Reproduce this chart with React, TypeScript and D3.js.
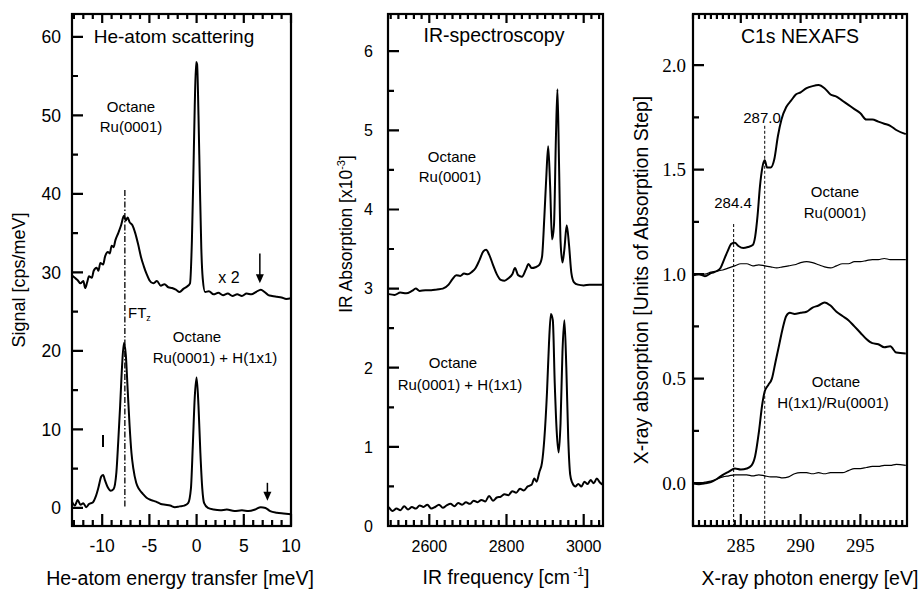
import React from 'react';
import * as d3 from 'd3';

// He-atom scattering (energy transfer meV, signal cps/meV)
const heRu: [number, number][] = [
  [-13.2, 29.6], [-12.9, 29.3], [-12.6, 29.0], [-12.3, 28.6], [-12.0, 28.9], [-11.8, 28.0], [-11.6, 28.7],
  [-11.4, 29.5], [-11.1, 29.3], [-10.9, 30.2], [-10.6, 30.6], [-10.4, 30.2], [-10.2, 31.2], [-9.9, 31.0],
  [-9.7, 32.0], [-9.4, 32.6], [-9.2, 32.4], [-9.0, 33.4], [-8.8, 33.2], [-8.6, 34.1], [-8.3, 35.0],
  [-8.0, 36.0], [-7.7, 37.2], [-7.5, 36.6], [-7.3, 37.0], [-7.1, 36.4], [-6.8, 36.0], [-6.5, 35.0],
  [-6.2, 33.6], [-5.9, 32.0], [-5.6, 30.8], [-5.3, 29.8], [-5.0, 29.0], [-4.6, 28.6], [-4.2, 28.9],
  [-3.8, 28.3], [-3.4, 28.5], [-3.0, 28.1], [-2.6, 28.0], [-2.2, 27.8], [-1.8, 27.5], [-1.4, 27.9],
  [-1.0, 28.2], [-0.7, 28.6], [-0.5, 34], [-0.35, 42], [-0.2, 51], [-0.05, 56.8], [0.05, 56.5],
  [0.2, 50], [0.35, 41], [0.5, 33], [0.65, 29.2], [0.9, 27.5], [1.3, 27.6], [1.8, 27.2], [2.3, 27.4],
  [2.8, 27.1], [3.3, 27.3], [3.8, 27.0], [4.3, 27.2], [4.8, 27.0], [5.3, 27.3], [5.8, 27.2], [6.3, 27.5],
  [6.8, 27.8], [7.2, 27.5], [7.6, 27.1], [8.0, 27.0], [8.5, 26.9], [9.0, 26.8], [9.5, 26.6], [10.0, 26.7],
];
const heRuH: [number, number][] = [
  [-13.2, 0.8], [-12.9, 0.3], [-12.6, 1.0], [-12.3, 0.4], [-12.0, 0.6], [-11.7, 0.1], [-11.4, 0.5],
  [-11.0, 0.7], [-10.7, 1.4], [-10.4, 2.6], [-10.1, 4.0], [-9.9, 4.2], [-9.7, 3.5], [-9.4, 2.6],
  [-9.1, 2.2], [-8.8, 2.4], [-8.5, 4.5], [-8.3, 8.5], [-8.1, 13], [-7.9, 18], [-7.7, 21], [-7.5, 19.5],
  [-7.3, 15], [-7.1, 10.5], [-6.9, 7], [-6.7, 5], [-6.4, 3.2], [-6.1, 2.4], [-5.7, 1.8], [-5.3, 1.3],
  [-4.8, 1.0], [-4.3, 0.8], [-3.8, 0.5], [-3.3, 0.4], [-2.8, 0.3], [-2.3, 0.1], [-1.8, 0.2], [-1.3, 0.3],
  [-0.9, 0.6], [-0.6, 2.5], [-0.4, 8], [-0.2, 14], [0, 16.6], [0.2, 13], [0.4, 7], [0.6, 2.5], [0.8, 0.6],
  [1.2, 0.0], [1.8, -0.2], [2.5, -0.3], [3.2, -0.2], [4.0, -0.4], [4.8, -0.3], [5.5, -0.4], [6.2, -0.2],
  [6.8, 0.1], [7.3, 0.0], [7.8, -0.4], [8.5, -0.6], [9.2, -0.7], [10.0, -0.8],
];

// IR spectroscopy (cm-1, absorption x10^-3)
const irRu: [number, number][] = [
  [2495, 2.93], [2510, 2.92], [2525, 2.95], [2540, 2.94], [2555, 2.97], [2565, 3.0], [2575, 2.97],
  [2590, 2.98], [2605, 2.98], [2620, 2.99], [2635, 3.0], [2650, 3.05], [2660, 3.12], [2670, 3.17],
  [2680, 3.16], [2690, 3.19], [2700, 3.18], [2710, 3.21], [2720, 3.26], [2730, 3.36], [2740, 3.47],
  [2747, 3.49], [2755, 3.43], [2765, 3.3], [2775, 3.18], [2785, 3.11], [2795, 3.1], [2805, 3.13],
  [2815, 3.18], [2822, 3.26], [2830, 3.17], [2840, 3.15], [2850, 3.24], [2857, 3.31], [2865, 3.26],
  [2875, 3.27], [2885, 3.3], [2892, 3.4], [2898, 3.9], [2903, 4.4], [2908, 4.8], [2913, 4.3],
  [2918, 3.62], [2923, 3.8], [2928, 4.9], [2932, 5.52], [2936, 4.6], [2940, 3.6], [2945, 3.33],
  [2950, 3.5], [2956, 3.8], [2962, 3.55], [2968, 3.2], [2975, 3.08], [2985, 3.05], [3000, 3.04],
  [3015, 3.05], [3030, 3.05], [3050, 3.05],
];
const irRuH: [number, number][] = [
  [2495, 0.24], [2505, 0.19], [2515, 0.22], [2525, 0.2], [2535, 0.25], [2545, 0.21], [2555, 0.24],
  [2565, 0.22], [2575, 0.26], [2585, 0.24], [2595, 0.27], [2605, 0.22], [2615, 0.24], [2625, 0.27],
  [2635, 0.23], [2645, 0.26], [2655, 0.28], [2665, 0.25], [2675, 0.29], [2685, 0.27], [2695, 0.3],
  [2705, 0.28], [2715, 0.32], [2725, 0.3], [2735, 0.33], [2745, 0.31], [2755, 0.38], [2765, 0.32],
  [2775, 0.36], [2785, 0.37], [2795, 0.4], [2805, 0.39], [2815, 0.44], [2825, 0.42], [2835, 0.47],
  [2845, 0.45], [2855, 0.5], [2865, 0.52], [2872, 0.6], [2878, 0.56], [2885, 0.68], [2892, 0.8],
  [2898, 1.1], [2905, 1.7], [2910, 2.3], [2915, 2.68], [2920, 2.6], [2925, 1.8], [2930, 1.2],
  [2935, 0.93], [2940, 1.3], [2945, 2.2], [2950, 2.6], [2955, 2.0], [2960, 1.1], [2965, 0.65],
  [2970, 0.55], [2978, 0.5], [2986, 0.53], [2994, 0.5], [3002, 0.56], [3010, 0.53], [3018, 0.58],
  [3026, 0.54], [3034, 0.6], [3042, 0.55], [3050, 0.52],
];

// C1s NEXAFS (eV, absorption in units of step)
const nxRu: [number, number][] = [
  [281.0, 0.995], [281.5, 1.0], [282.0, 0.99], [282.5, 1.005], [283.0, 1.015], [283.3, 1.03],
  [283.6, 1.07], [283.9, 1.11], [284.2, 1.145], [284.5, 1.15], [284.8, 1.135], [285.2, 1.125],
  [285.6, 1.13], [286.0, 1.14], [286.2, 1.18], [286.4, 1.28], [286.6, 1.42], [286.8, 1.51],
  [287.0, 1.545], [287.2, 1.51], [287.5, 1.51], [287.8, 1.55], [288.1, 1.66], [288.4, 1.74],
  [288.8, 1.8], [289.2, 1.83], [289.6, 1.86], [290.0, 1.87], [290.5, 1.89], [291.0, 1.9],
  [291.5, 1.905], [292.0, 1.89], [292.5, 1.86], [293.0, 1.85], [293.5, 1.83], [294.0, 1.81],
  [294.5, 1.79], [295.0, 1.77], [295.5, 1.74], [296.0, 1.74], [296.5, 1.73], [297.0, 1.72],
  [297.5, 1.71], [298.0, 1.69], [298.8, 1.67],
];
const nxRuBg: [number, number][] = [
  [281.0, 0.995], [281.5, 1.0], [282.0, 1.0], [282.5, 1.01], [283.0, 1.015], [283.5, 1.02], [284.0, 1.03],
  [284.5, 1.04], [285.0, 1.05], [285.5, 1.05], [286.0, 1.04], [286.5, 1.045], [287.0, 1.04], [287.5, 1.035],
  [288.0, 1.03], [288.5, 1.035], [289.0, 1.04], [289.5, 1.045], [290.0, 1.055], [290.5, 1.06],
  [291.0, 1.055], [291.5, 1.045], [292.0, 1.035], [292.5, 1.03], [293.0, 1.04], [293.5, 1.05],
  [294.0, 1.05], [294.5, 1.06], [295.0, 1.06], [295.5, 1.065], [296.0, 1.07], [296.5, 1.07],
  [297.0, 1.075], [297.5, 1.07], [298.0, 1.07], [298.8, 1.07],
];
const nxRuH: [number, number][] = [
  [281.0, 0.0], [281.5, -0.005], [282.0, 0.0], [282.5, 0.005], [283.0, 0.02], [283.5, 0.04], [284.0, 0.055],
  [284.5, 0.07], [285.0, 0.065], [285.5, 0.07], [285.9, 0.085], [286.2, 0.13], [286.5, 0.24], [286.8, 0.38],
  [287.0, 0.44], [287.3, 0.47], [287.6, 0.5], [287.9, 0.58], [288.2, 0.66], [288.5, 0.74], [288.8, 0.8],
  [289.1, 0.815], [289.5, 0.81], [290.0, 0.815], [290.5, 0.82], [291.0, 0.84], [291.5, 0.85],
  [292.0, 0.865], [292.5, 0.85], [293.0, 0.82], [293.5, 0.8], [294.0, 0.78], [294.5, 0.75], [295.0, 0.72],
  [295.5, 0.69], [296.0, 0.67], [296.5, 0.665], [297.0, 0.65], [297.5, 0.655], [298.0, 0.625], [298.8, 0.62],
];
const nxRuHBg: [number, number][] = [
  [281.0, 0.0], [281.5, 0.0], [282.0, 0.005], [282.5, 0.01], [283.0, 0.02], [283.5, 0.03], [284.0, 0.035],
  [284.5, 0.04], [285.0, 0.04], [285.5, 0.04], [286.0, 0.035], [286.5, 0.04], [287.0, 0.035], [287.5, 0.03],
  [288.0, 0.03], [288.5, 0.025], [289.0, 0.03], [289.5, 0.045], [290.0, 0.05], [290.5, 0.05], [291.0, 0.045],
  [291.5, 0.05], [292.0, 0.045], [292.5, 0.05], [293.0, 0.05], [293.5, 0.05], [294.0, 0.06], [294.5, 0.07],
  [295.0, 0.07], [295.5, 0.075], [296.0, 0.08], [296.5, 0.08], [297.0, 0.085], [297.5, 0.085],
  [298.0, 0.09], [298.8, 0.085],
];

const heXTicks = [-10, -5, 0, 5, 10];
const heYTicks = [0, 10, 20, 30, 40, 50, 60];
const irXTicks = [2600, 2800, 3000];
const irYTicks = [0, 1, 2, 3, 4, 5, 6];
const nxXTicks = [285, 290, 295];
const nxYTicks = [0, 0.5, 1, 1.5, 2];

const SANS = 'Liberation Sans, Arial, Helvetica, sans-serif';
const SERIF = 'Liberation Serif, Times New Roman, serif';

type Box = { x0: number; x1: number; y0: number; y1: number };

function steps(a: number, b: number, s: number) {
  const out: number[] = [];
  const n = Math.floor((b - a) / s + 1e-6);
  for (let i = 0; i <= n; i++) out.push(a + i * s);
  return out;
}

// one path holding every inward tick of a panel
function tickPath(box: Box, sx: any, sy: any, xMajor: number[], xMinor: number, yMajor: number[], yMinor: number) {
  const [xa, xb] = sx.domain();
  const [ya, yb] = sy.domain();
  const parts: string[] = [];
  steps(Math.ceil(xa / xMinor) * xMinor, xb, xMinor).forEach(v => {
    const p = sx(v).toFixed(1);
    parts.push(`M${p} ${box.y1}L${p} ${box.y1 - 6}`, `M${p} ${box.y0}L${p} ${box.y0 + 5}`);
  });
  xMajor.forEach(v => {
    const p = sx(v).toFixed(1);
    parts.push(`M${p} ${box.y1}L${p} ${box.y1 - 12}`, `M${p} ${box.y0}L${p} ${box.y0 + 9}`);
  });
  steps(Math.ceil(ya / yMinor) * yMinor, yb, yMinor).forEach(v => {
    const p = sy(v).toFixed(1);
    parts.push(`M${box.x0} ${p}L${box.x0 + 6} ${p}`);
  });
  yMajor.forEach(v => {
    const p = sy(v).toFixed(1);
    parts.push(`M${box.x0} ${p}L${box.x0 + 11} ${p}`);
  });
  return parts.join('');
}

function Curve({ data, sx, sy, w = 2 }: any) {
  const line = d3.line<[number, number]>().x(d => sx(d[0])).y(d => sy(d[1])).curve(d3.curveMonotoneX);
  return <path d={line(data) || ''} fill="none" stroke="#000" strokeWidth={w} strokeLinejoin="round" />;
}

function Arrow({ px, py0, py1 }: { px: number; py0: number; py1: number }) {
  return (
    <g>
      <line x1={px} x2={px} y1={py0} y2={py1 - 6} stroke="#000" strokeWidth={1.5} />
      <path d={`M${px - 4},${py1 - 9} L${px + 4},${py1 - 9} L${px},${py1} Z`} fill="#000" />
    </g>
  );
}

const b1: Box = { x0: 72, x1: 291, y0: 14, y1: 526 };
const b2: Box = { x0: 388, x1: 603, y0: 14, y1: 526 };
const b3: Box = { x0: 693, x1: 907, y0: 14, y1: 526 };

const sx1 = d3.scaleLinear().domain([-13.2, 10]).range([b1.x0, b1.x1]);
const sy1 = d3.scaleLinear().domain([-2.3, 62.9]).range([b1.y1, b1.y0]);
const sx2 = d3.scaleLinear().domain([2493, 3050]).range([b2.x0, b2.x1]);
const sy2 = d3.scaleLinear().domain([0, 6.47]).range([b2.y1, b2.y0]);
const sx3 = d3.scaleLinear().domain([281, 298.9]).range([b3.x0, b3.x1]);
const sy3 = d3.scaleLinear().domain([-0.205, 2.245]).range([b3.y1, b3.y0]);

export default function App() {
  const txt = (props: any, s: React.ReactNode) => (
    <text fontFamily={SANS} fontSize={15} textAnchor="middle" {...props}>{s}</text>
  );
  const frame = (b: Box) => (
    <rect x={b.x0} y={b.y0} width={b.x1 - b.x0} height={b.y1 - b.y0} fill="none" stroke="#000" strokeWidth={2.2} />
  );

  return (
    <svg width={922} height={590} style={{ position: 'absolute', left: 0, top: 0, background: '#fff' }}>
      {/* ticks of all three panels */}
      <path d={tickPath(b1, sx1, sy1, heXTicks, 1, heYTicks, 5)} stroke="#000" strokeWidth={2.2} fill="none" />
      <path d={tickPath(b2, sx2, sy2, irXTicks, 20, irYTicks, 0.5)} stroke="#000" strokeWidth={2.2} fill="none" />
      <path d={tickPath(b3, sx3, sy3, nxXTicks, 0.5, nxYTicks, 0.25)} stroke="#000" strokeWidth={2.2} fill="none" />
      {frame(b1)}
      {frame(b2)}
      {frame(b3)}

      {/* Panel 1 */}
      {heXTicks.map(v => (
        <text key={'hx' + v} x={sx1(v)} y={552} textAnchor="middle" fontFamily={SANS} fontSize={17.5}>{v}</text>
      ))}
      {heYTicks.map(v => (
        <text key={'hy' + v} x={b1.x0 - 11} y={sy1(v) + 6.3} textAnchor="end" fontFamily={SANS} fontSize={17.5}>{v}</text>
      ))}
      <line x1={sx1(-7.6)} x2={sx1(-7.6)} y1={sy1(40.5)} y2={sy1(0)} stroke="#000" strokeWidth={1.3} strokeDasharray="6,2,1.5,2" />
      <Curve data={heRu} sx={sx1} sy={sy1} />
      <Curve data={heRuH} sx={sx1} sy={sy1} />
      {txt({ x: 174, y: 43, fontSize: 19 }, 'He-atom scattering')}
      {txt({ x: 131, y: 112 }, 'Octane')}
      {txt({ x: 131, y: 132 }, 'Ru(0001)')}
      {txt({ x: 229, y: 283, fontSize: 16 }, 'x 2')}
      <text x={128} y={318} fontFamily={SANS} fontSize={15}>FT<tspan fontSize={9} dy={3}>z</tspan></text>
      {txt({ x: 197, y: 342 }, 'Octane')}
      {txt({ x: 215, y: 363 }, 'Ru(0001) + H(1x1)')}
      <line x1={103} x2={103} y1={435} y2={447} stroke="#000" strokeWidth={2} />
      <Arrow px={sx1(6.7)} py0={sy1(32.4)} py1={sy1(28.6)} />
      <Arrow px={sx1(7.5)} py0={sy1(3.2)} py1={sy1(0.9)} />
      <text transform="translate(25,280) rotate(-90)" textAnchor="middle" fontFamily={SANS} fontSize={18}>Signal [cps/meV]</text>
      <text x={180} y={585} textAnchor="middle" fontFamily={SANS} fontSize={19.5}>He-atom energy transfer [meV]</text>

      {/* Panel 2 */}
      {irXTicks.map(v => (
        <text key={'ix' + v} x={sx2(v)} y={552} textAnchor="middle" fontFamily={SANS} fontSize={16}>{v}</text>
      ))}
      {irYTicks.map(v => (
        <text key={'iy' + v} x={b2.x0 - 15} y={sy2(v) + 5.8} textAnchor="end" fontFamily={SANS} fontSize={16}>{v}</text>
      ))}
      <Curve data={irRu} sx={sx2} sy={sy2} />
      <Curve data={irRuH} sx={sx2} sy={sy2} />
      {txt({ x: 494, y: 42, fontSize: 19.5 }, 'IR-spectroscopy')}
      {txt({ x: 452, y: 162 }, 'Octane')}
      {txt({ x: 450, y: 182 }, 'Ru(0001)')}
      {txt({ x: 453, y: 368 }, 'Octane')}
      {txt({ x: 460, y: 390 }, 'Ru(0001) + H(1x1)')}
      <text transform="translate(352,234) rotate(-90)" textAnchor="middle" fontFamily={SANS} fontSize={17.5}>
        IR Absorption [x10<tspan fontSize={11} dy={-7}>-3</tspan><tspan dy={7}>]</tspan>
      </text>
      <text x={506} y={584} textAnchor="middle" fontFamily={SANS} fontSize={19.5}>
        IR frequency [cm<tspan fontSize={12} dy={-8}> -1</tspan><tspan dy={8}>]</tspan>
      </text>

      {/* Panel 3 */}
      {nxXTicks.map(v => (
        <text key={'nx' + v} x={sx3(v)} y={552} textAnchor="middle" fontFamily={SERIF} fontSize={19}>{v}</text>
      ))}
      {nxYTicks.map(v => (
        <text key={'ny' + v} x={b3.x0 - 7} y={sy3(v) + 6.8} textAnchor="end" fontFamily={SERIF} fontSize={19}>{v.toFixed(1)}</text>
      ))}
      <line x1={sx3(284.4)} x2={sx3(284.4)} y1={sy3(1.24)} y2={b3.y1} stroke="#000" strokeWidth={1} strokeDasharray="3,2" />
      <line x1={sx3(287.0)} x2={sx3(287.0)} y1={sy3(1.71)} y2={b3.y1} stroke="#000" strokeWidth={1} strokeDasharray="3,2" />
      <Curve data={nxRuBg} sx={sx3} sy={sy3} w={1.2} />
      <Curve data={nxRuHBg} sx={sx3} sy={sy3} w={1.2} />
      <Curve data={nxRu} sx={sx3} sy={sy3} />
      <Curve data={nxRuH} sx={sx3} sy={sy3} />
      {txt({ x: 800, y: 43, fontSize: 19.5 }, 'C1s NEXAFS')}
      {txt({ x: 762, y: 123 }, '287.0')}
      {txt({ x: 733, y: 208 }, '284.4')}
      {txt({ x: 835, y: 197 }, 'Octane')}
      {txt({ x: 835, y: 218 }, 'Ru(0001)')}
      {txt({ x: 836, y: 387 }, 'Octane')}
      {txt({ x: 833, y: 408 }, 'H(1x1)/Ru(0001)')}
      <text transform="translate(648,280) rotate(-90)" textAnchor="middle" fontFamily={SANS} fontSize={19.5}>
        X-ray absorption [Units of Absorption Step]
      </text>
      <text x={810} y={585} textAnchor="middle" fontFamily={SANS} fontSize={19.5}>X-ray photon energy [eV]</text>
    </svg>
  );
}
